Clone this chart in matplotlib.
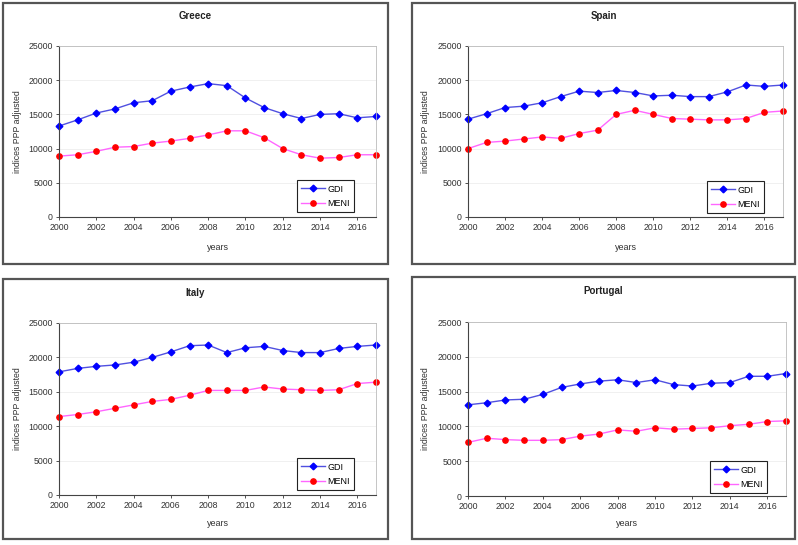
import numpy as np
import matplotlib
matplotlib.use('Agg')
import matplotlib.pyplot as plt
from matplotlib.patches import Rectangle

plt.rcParams['font.family'] = ['Liberation Sans', 'DejaVu Sans']

years = list(range(2000, 2018))

greece_gdi = [13300, 14200, 15200, 15800, 16700, 17000, 18400, 19000, 19500, 19200,
              17400, 16000, 15100, 14400, 15000, 15100, 14500, 14700]
greece_meni = [8900, 9100, 9600, 10200, 10300, 10800, 11100, 11500, 12000, 12600,
               12600, 11600, 10000, 9100, 8600, 8700, 9100, 9100]

spain_gdi = [14300, 15100, 16000, 16200, 16700, 17600, 18400, 18200, 18500, 18200,
             17700, 17800, 17600, 17600, 18300, 19300, 19100, 19300]
spain_meni = [10000, 10900, 11100, 11400, 11700, 11500, 12200, 12700, 15000, 15600,
              15000, 14400, 14300, 14200, 14200, 14400, 15300, 15500]

italy_gdi = [17900, 18400, 18700, 18900, 19300, 20000, 20800, 21700, 21800, 20700,
             21400, 21600, 21000, 20700, 20700, 21300, 21600, 21800]
italy_meni = [11400, 11700, 12100, 12600, 13100, 13600, 13900, 14500, 15200, 15200,
              15200, 15700, 15400, 15300, 15200, 15300, 16200, 16400]

portugal_gdi = [13100, 13400, 13800, 13900, 14600, 15600, 16100, 16500, 16700, 16300,
                16700, 16000, 15800, 16200, 16300, 17200, 17200, 17600]
portugal_meni = [7700, 8300, 8100, 8000, 8000, 8100, 8600, 8900, 9500, 9300,
                 9800, 9600, 9700, 9800, 10100, 10300, 10700, 10800]

W, H = 798, 545
fig = plt.figure(figsize=(W / 100, H / 100), dpi=100)
fig.patch.set_facecolor('white')


def px_axes(x0, x1, y0, y1):
    return fig.add_axes([x0 / W, 1 - y1 / H, (x1 - x0) / W, (y1 - y0) / H])


def frame(x0, x1, y0, y1):
    fig.patches.append(Rectangle((x0 / W, 1 - y1 / H), (x1 - x0) / W, (y1 - y0) / H,
                                 transform=fig.transFigure, fill=False,
                                 edgecolor='#555555', linewidth=1.6))


# name, gdi, meni, frame box, axes box, legend (right, bottom) px, ylabel x, xlabel y, title y
panels = [
    ('Greece', greece_gdi, greece_meni, (3, 388, 3, 264), (59, 376, 46, 217), (354, 212), 18, 247, 16),
    ('Spain', spain_gdi, spain_meni, (412, 795, 3, 264), (468, 783, 46, 217), (764, 213), 426, 247, 16),
    ('Italy', italy_gdi, italy_meni, (3, 388, 279, 539), (59, 376, 323, 495), (354, 490), 18, 524, 293),
    ('Portugal', portugal_gdi, portugal_meni, (412, 795, 277, 539), (468, 786, 322, 496), (767, 493), 426, 524, 291),
]

for name, gdi, meni, fr, ax_box, leg_pos, ylab_x, xlab_y, title_y in panels:
    frame(*fr)
    ax = px_axes(*ax_box)
    ax.plot(years, gdi, color='#5050E0', lw=1.0, marker='D', ms=3.4,
            mfc='#0000FF', mec='#0000FF', label='GDI', clip_on=False)
    ax.plot(years, meni, color='#FF66FF', lw=1.0, marker='o', ms=3.8,
            mfc='#FF0000', mec='#FF0000', label='MENI', clip_on=False)
    ax.set_xlim(2000, 2017)
    ax.set_ylim(0, 25000)
    ax.set_xticks(range(2000, 2017, 2))
    ax.set_yticks(range(0, 25001, 5000))
    ax.tick_params(labelsize=6.3, length=2.5, width=0.6, colors='#333333', pad=2)
    ax.grid(axis='y', color='#eeeeee', lw=0.6)
    ax.set_axisbelow(True)
    for s in ['top', 'right']:
        ax.spines[s].set_color('#bbbbbb')
        ax.spines[s].set_linewidth(0.6)
    for s in ['left', 'bottom']:
        ax.spines[s].set_color('#444444')
        ax.spines[s].set_linewidth(0.8)
    lx = (leg_pos[0] - ax_box[0]) / (ax_box[1] - ax_box[0])
    ly = (ax_box[3] - leg_pos[1]) / (ax_box[3] - ax_box[2])
    leg = ax.legend(loc='lower right', bbox_to_anchor=(lx, ly), borderaxespad=0,
                    fontsize=6.5, fancybox=False, edgecolor='#222222', framealpha=1,
                    handlelength=2.6, borderpad=0.45, labelspacing=0.6,
                    handletextpad=0.3)
    leg.get_frame().set_linewidth(0.8)
    cx = (fr[0] + fr[1]) / 2
    fig.text(cx / W, 1 - title_y / H, name, ha='center', va='center',
             fontsize=7, fontweight='bold', color='#222222')
    fig.text((ax_box[0] + ax_box[1]) / 2 / W, 1 - xlab_y / H, 'years', ha='center',
             va='center', fontsize=6.5, color='#333333')
    fig.text(ylab_x / W, 1 - (ax_box[2] + ax_box[3]) / 2 / H, 'indices PPP adjusted',
             ha='center', va='center', rotation=90, fontsize=6.3, color='#333333')

fig.savefig('out.png', dpi=100)
